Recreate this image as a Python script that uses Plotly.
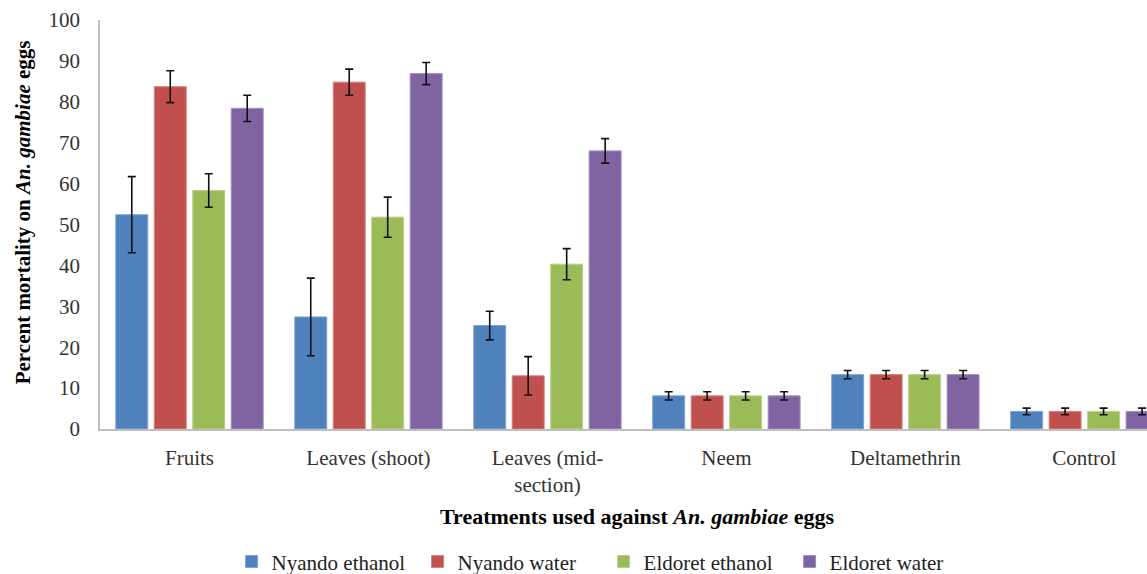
import plotly.graph_objects as go

categories = ["Fruits", "Leaves (shoot)", "Leaves (mid-<br>section)", "Neem", "Deltamethrin", "Control"]
series_names = ["Nyando ethanol", "Nyando water", "Eldoret ethanol", "Eldoret water"]
nyando_ethanol = [52.4, 27.4, 25.3, 8.1, 13.3, 4.3]
nyando_water = [83.7, 84.8, 13.0, 8.1, 13.3, 4.3]
eldoret_ethanol = [58.3, 51.8, 40.3, 8.1, 13.3, 4.3]
eldoret_water = [78.4, 86.9, 68.0, 8.1, 13.3, 4.3]
err_nyando_ethanol = [9.3, 9.5, 3.5, 1.0, 1.0, 0.8]
err_nyando_water = [3.9, 3.2, 4.7, 1.0, 1.0, 0.8]
err_eldoret_ethanol = [4.1, 4.9, 3.8, 1.0, 1.0, 0.8]
err_eldoret_water = [3.2, 2.7, 3.0, 1.0, 1.0, 0.8]

values = [nyando_ethanol, nyando_water, eldoret_ethanol, eldoret_water]
errors = [err_nyando_ethanol, err_nyando_water, err_eldoret_ethanol, err_eldoret_water]
colors = ["#4F81BD", "#C0504D", "#9BBB59", "#8064A2"]
edges = ["#7FA3D3", "#D6817F", "#B9D18A", "#A38CC0"]

FF = "Liberation Serif"

fig = go.Figure()
for name, v, e, c, ec in zip(series_names, values, errors, colors, edges):
    fig.add_trace(go.Bar(
        name=name, x=categories, y=v,
        marker=dict(color=c, line=dict(color=ec, width=1)),
        error_y=dict(type="data", array=e, visible=True, color="#111111", thickness=1.6, width=4),
    ))

fig.update_layout(
    width=1147, height=574,
    margin=dict(l=100, r=0, t=20, b=145, autoexpand=False),
    paper_bgcolor="white", plot_bgcolor="white",
    barmode="group", bargap=0.14, bargroupgap=0.17,
    font=dict(family=FF, size=20, color="#333333"),
    showlegend=True,
    legend=dict(orientation="h", x=0.481, xanchor="center", y=-0.325, yanchor="middle",
                font=dict(family=FF, size=21, color="#222222"),
                itemwidth=30, traceorder="normal",
                entrywidth=141, entrywidthmode="pixels"),
    xaxis=dict(range=[-0.5, 5.35], showline=True, linecolor="#BFBFBF", linewidth=1.5,
               ticks="", showgrid=False, tickfont=dict(family=FF, size=21, color="#333333"),
               ticklabelstandoff=9, automargin=False),
    yaxis=dict(range=[0, 100], dtick=10, showline=True, linecolor="#BFBFBF", linewidth=1.5,
               ticks="", showgrid=False, zeroline=False,
               tickfont=dict(family=FF, size=21, color="#333333"),
               ticklabelstandoff=14, automargin=False),
    annotations=[
        dict(text="<b>Percent mortality on <i>An. gambiae</i> eggs</b>", xref="paper", yref="paper",
             x=-0.0735, y=0.53, xanchor="center", yanchor="middle", textangle=-90, showarrow=False,
             font=dict(family=FF, size=21, color="#000000")),
        dict(text="<b>Treatments used against <i>An. gambiae</i> eggs</b>", xref="paper", yref="paper",
             x=0.513, y=-0.213, xanchor="center", yanchor="middle", showarrow=False,
             font=dict(family=FF, size=22, color="#000000")),
    ],
)

fig.write_html("out.html", config={"displayModeBar": False},
               post_script="document.body.style.margin='0';")
